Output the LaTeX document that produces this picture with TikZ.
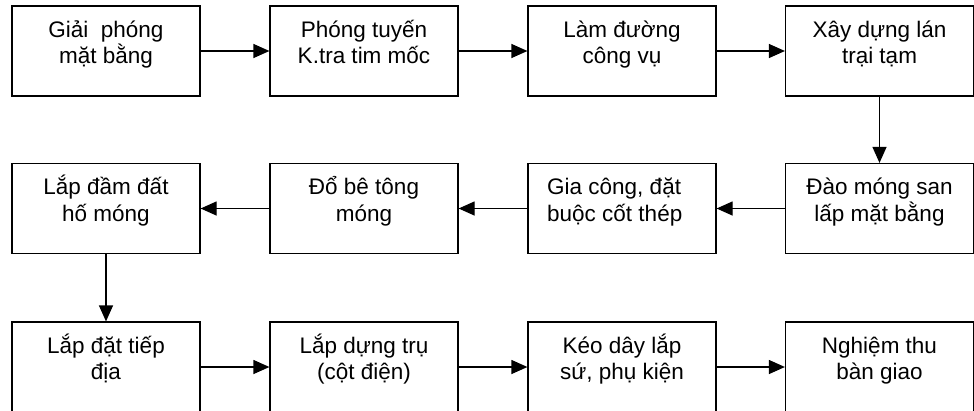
\documentclass[tikz,border=0pt]{standalone}
\usepackage{fontspec}
\setmainfont{Liberation Sans}
\usetikzlibrary{arrows.meta}
\begin{document}
\begin{tikzpicture}[x=1pt,y=-1pt,
  box/.style={draw, line width=1.2pt, minimum width=188pt, minimum height=90pt, inner sep=0pt},
  txt/.style={font=\fontsize{22.5}{26.5}\selectfont, align=center, inner sep=0pt, anchor=base},
  flow/.style={line width=1.2pt, -{Triangle[length=16pt,width=14pt]}}]
\clip (0,0) rectangle (974,410);
% row 1
\node[box] (b1) at (106,51) {};
\node[box] (b2) at (364,51) {};
\node[box] (b3) at (622,51) {};
\node[box] (b4) at (879.5,51) {};
% row 2
\node[box] (b5) at (879.5,208.5) {};
\node[box] (b6) at (622,208.5) {};
\node[box] (b7) at (364,208.5) {};
\node[box] (b8) at (106,208.5) {};
% row 3
\node[box] (b9) at (106,367) {};
\node[box] (b10) at (364,367) {};
\node[box] (b11) at (622,367) {};
\node[box] (b12) at (879.5,367) {};
% texts (base anchor = baseline of last line)
\node[txt] (t1) at (106,63.8) {Giải\ \ phóng\\mặt bằng};
\node[txt] (t2) at (364,63.8) {Phóng tuyến\\K.tra tim mốc};
\node[txt] (t3) at (622,63.8) {Làm đường\\công vụ};
\node[txt] (t4) at (879.5,63.8) {Xây dựng lán\\trại tạm};
\node[txt] (t5) at (879.5,221) {Đào móng san\\lấp mặt bằng};
\node[txt, anchor=base west, align=left] (t6) at (547,221) {Gia công, đặt\\buộc cốt thép};
\node[txt] (t7) at (364,221) {Đổ bê tông\\móng};
\node[txt] (t8) at (106,221) {Lắp đầm đất\\hố móng};
\node[txt] (t9) at (106,379.8) {Lắp đặt tiếp\\địa};
\node[txt] (t10) at (364,379.8) {Lắp dựng trụ\\(cột điện)};
\node[txt] (t11) at (622,379.8) {Kéo dây lắp\\sứ, phụ kiện};
\node[txt] (t12) at (879.5,379.8) {Nghiệm thu\\bàn giao};
% connectors
\draw[flow] (b1.east) -- (b2.west);
\draw[flow] (b2.east) -- (b3.west);
\draw[flow] (b3.east) -- (b4.west);
\draw[flow] (b4.south) -- (b5.north);
\draw[flow] (b5.west) -- (b6.east);
\draw[flow] (b6.west) -- (b7.east);
\draw[flow] (b7.west) -- (b8.east);
\draw[flow] (b8.south) -- (b9.north);
\draw[flow] (b9.east) -- (b10.west);
\draw[flow] (b10.east) -- (b11.west);
\draw[flow] (b11.east) -- (b12.west);
\end{tikzpicture}
\end{document}
